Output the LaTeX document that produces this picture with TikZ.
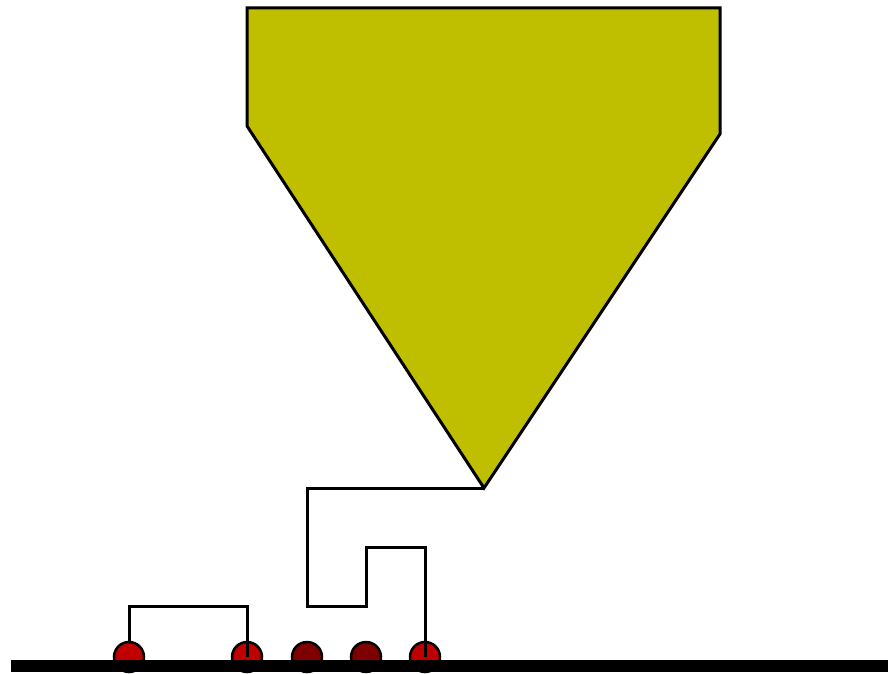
\documentclass[tikz,border=0pt]{standalone}
\usetikzlibrary{positioning}
\definecolor{hopperolive}{HTML}{BFBF00}
\definecolor{ballred}{HTML}{C00000}
\definecolor{balldark}{HTML}{7F0000}

\begin{document}
\begin{tikzpicture}[
  x=1pt, y=-1pt,
  line width=3pt,
  wire/.style={draw=black, line width=3pt},
  ball/.style={circle, draw=black, line width=2.5pt, minimum size=30pt, inner sep=0pt, fill=ballred},
  darkball/.style={ball, fill=balldark}
]
  \useasboundingbox (0,0) rectangle (888,674);

  % hopper
  \draw[fill=hopperolive, line join=miter] (247,8) -- (720,8) -- (720,134)
        -- (484,488) -- (247,126) -- cycle;
  \coordinate (tip) at (484,488);

  % balls on the rail
  \node[ball] (b1) at (129,657) {};
  \node[ball] (b2) at (247,657) {};
  \node[darkball] (b3) at (307,657) {};
  \node[darkball] (b4) at (366,657) {};
  \node[ball] (b5) at (425,657) {};

  % wires
  \draw[wire] (b1.north) |- (247,606) -- (b2.center);
  \draw[wire] (tip) -- (307,488) -- (307,606) -- (366,606) -- (366,547)
        -| (b5.center);

  % rail
  \draw[line width=12pt] (11,665.5) -- (888,665.5);
\end{tikzpicture}
\end{document}
